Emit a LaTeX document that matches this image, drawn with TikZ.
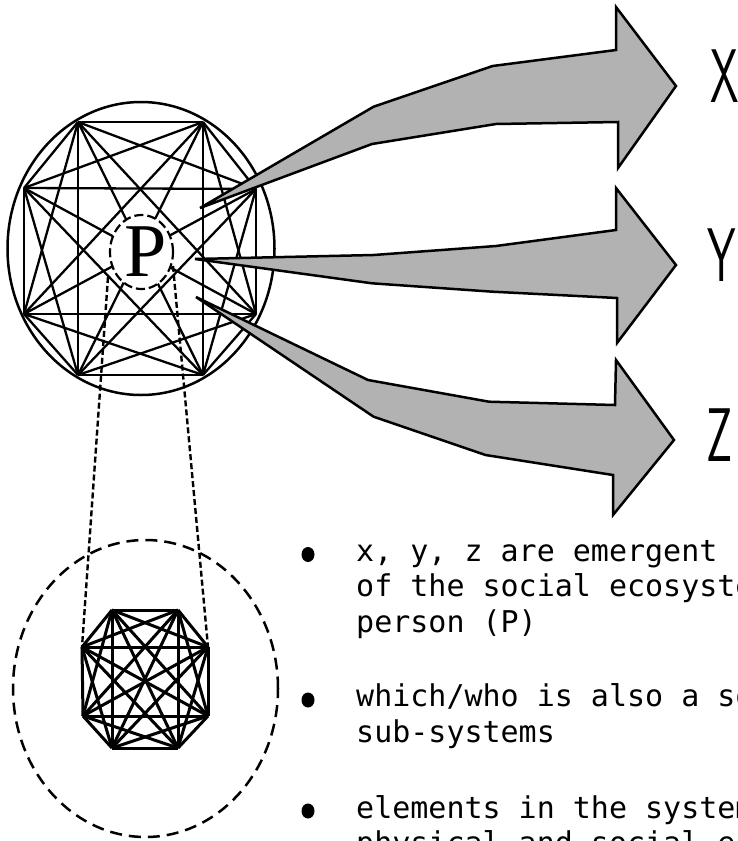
\documentclass[tikz,border=0pt]{standalone}
\usepackage{fontspec}
\newfontfamily\monofont{DejaVu Sans Mono}
\newfontfamily\serifP{Liberation Serif}
\begin{document}
\begin{tikzpicture}[x=1pt,y=-1pt,
  bigedge/.style={line width=2.3pt},
  smalledge/.style={line width=3pt},
  wedge/.style={draw=black,line width=2.5pt,fill=black!30,line join=miter},
  linkline/.style={line width=2.4pt,dash pattern=on 6pt off 3pt},
  txt/.style={anchor=base west,inner sep=0pt,font=\monofont\fontsize{30}{36}\selectfont},
  letter/.style={anchor=west,inner sep=0pt,font=\sffamily\fontsize{76}{80}\selectfont}]
\path[use as bounding box] (0,0) rectangle (737,841);
\clip (0,0) rectangle (737,841);

% big system
\draw[line width=2.5pt] (141,248.5) ellipse [x radius=133.5pt, y radius=146.5pt];
\coordinate (a1) at (78,122);
\coordinate (a2) at (203,122);
\coordinate (a3) at (256,189);
\coordinate (a4) at (256,314);
\coordinate (a5) at (203,375);
\coordinate (a6) at (78,375);
\coordinate (a7) at (24,314);
\coordinate (a8) at (24,188);
\foreach \i [evaluate=\i as \k using int(\i+1)] in {1,...,7}
  \foreach \j in {\k,...,8}
    \draw[bigedge] (a\i) -- (a\j);

% person P
\draw[fill=white,line width=2.2pt,dash pattern=on 9pt off 4pt] (141.5,252) ellipse [x radius=31.5pt, y radius=37pt];
\node[inner sep=0pt,font=\serifP\fontsize{76}{80}\selectfont] (p) at (145.5,252) {P};

% links to subsystem
\coordinate (pl) at (108,277);
\coordinate (pr) at (173,266);

% subsystem
\draw[line width=2.5pt,dash pattern=on 12pt off 7pt] (145.5,688.5) ellipse [x radius=132.5pt, y radius=148.5pt];
\coordinate (b1) at (112,610);
\coordinate (b2) at (178,610);
\coordinate (b3) at (208,647);
\coordinate (b4) at (208,716);
\coordinate (b5) at (178,748);
\coordinate (b6) at (112,748);
\coordinate (b7) at (83,716);
\coordinate (b8) at (82,647);
\foreach \i [evaluate=\i as \k using int(\i+1)] in {1,...,7}
  \foreach \j in {\k,...,8}
    \draw[smalledge] (b\i) -- (b\j);
\draw[linkline] (pl) -- (b8);
\draw[linkline] (pr) -- (b3);

% emergent arrows
\draw[wedge] (200,208) -- (373.6,106.7) -- (492.6,66) -- (616,50) -- (616,7) -- (676,86) -- (618,168) -- (618,122) -- (496,124) -- (372,144) -- cycle;
\draw[wedge] (195,259) -- (373.6,255) -- (496,246) -- (616,230) -- (616,188) -- (676,265) -- (617,343) -- (617,298) -- (492.6,291.7) -- (372,283.3) -- cycle;
\draw[wedge] (196,297) -- (368,380) -- (489,401.7) -- (615,405) -- (616,360) -- (674,440) -- (613,515) -- (613,475) -- (485.5,455) -- (373.6,416.7) -- cycle;

\node[letter] (lx) at (710,76) {\scalebox{0.6}[1]{X}};
\node[letter] (ly) at (707,255) {\scalebox{0.6}[1]{Y}};
\node[letter] (lz) at (706,435) {\scalebox{0.6}[1]{Z}};

% bullets and text
\fill (308,554.5) ellipse [x radius=6.5pt, y radius=7.5pt];
\fill (308,700) ellipse [x radius=6.5pt, y radius=7.5pt];
\fill (308,811) ellipse [x radius=6.5pt, y radius=7.5pt];
\node[txt] (t1) at (356,561.5) {x, y, z are emergent p};
\node[txt] (t2) at (356,596.8) {of the social ecosyste};
\node[txt] (t3) at (356,632.1) {person (P)};
\node[txt] (t4) at (356,706.8) {which/who is also a so};
\node[txt] (t5) at (356,742.1) {sub-systems};
\node[txt] (t6) at (356,818) {elements in the system};
\node[txt] (t7) at (356,853.3) {physical and social e};
\end{tikzpicture}
\end{document}
